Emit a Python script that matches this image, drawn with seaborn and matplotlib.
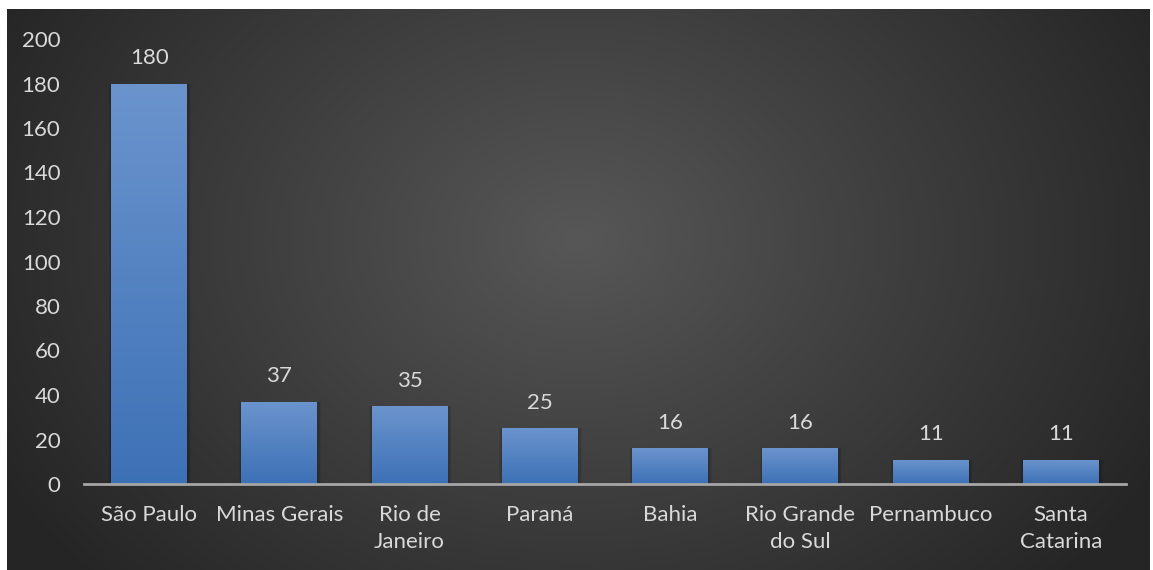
import numpy as np
import pandas as pd
import seaborn as sns
import matplotlib.pyplot as plt
from matplotlib.colors import LinearSegmentedColormap

# Data
estados = ["São Paulo", "Minas Gerais", "Rio de\nJaneiro", "Paraná", "Bahia",
           "Rio Grande\ndo Sul", "Pernambuco", "Santa\nCatarina"]
valores = [180, 37, 35, 25, 16, 16, 11, 11]
y_ticks = [0, 20, 40, 60, 80, 100, 120, 140, 160, 180, 200]

df = pd.DataFrame({"estado": estados, "valor": valores})

sns.set_theme(style="white")
plt.rcParams["font.family"] = ["Lato", "DejaVu Sans"]

fig = plt.figure(figsize=(11.53, 5.70), dpi=100, facecolor="white")

# Dark radial background
bg = fig.add_axes([7 / 1153, 0, 1143 / 1153, 561 / 570])
bg.set_axis_off()
yy, xx = np.mgrid[0:561, 0:1143]
r = np.sqrt(((xx - 570) / 650) ** 2 + ((yy - 230) / 500) ** 2)
r = np.clip(r, 0, 1)
bg_cmap = LinearSegmentedColormap.from_list("bg", ["#575757", "#3e3e3e", "#262626"])
bg.imshow(r, cmap=bg_cmap, aspect="auto", extent=(0, 1, 0, 1), origin="upper")
bg.set_xlim(0, 1)
bg.set_ylim(0, 1)

ax = fig.add_axes([84 / 1153, 1 - 484 / 570, 1042 / 1153, 445 / 570])
ax.patch.set_alpha(0)

sns.barplot(data=df, x="estado", y="valor", ax=ax, color="#5585c5",
            width=0.583, saturation=1, linewidth=0, zorder=3)

# Per-bar vertical gradient
grad_cmap = LinearSegmentedColormap.from_list("bar", ["#3d71b6", "#6b94cd"])
grad = np.linspace(0, 1, 256).reshape(-1, 1)
for bar in list(ax.patches):
    x0, y0 = bar.get_x(), bar.get_y()
    w, h = bar.get_width(), bar.get_height()
    # soft shadow, a few faint layers (mostly sideways)
    for k in range(1, 5):
        ax.bar(x0 + w / 2 + 0.005, h, width=w + 0.012 * k, bottom=0,
               color="black", alpha=0.05, zorder=2, linewidth=0)
    im = ax.imshow(grad, cmap=grad_cmap, aspect="auto", origin="lower",
                   extent=(x0, x0 + w, y0, y0 + h), zorder=4)
    im.set_clip_path(bar)
    ax.text(x0 + w / 2, h + 7, str(int(h)), ha="center", va="bottom",
            color="#d9d9d9", fontsize=16)

ax.set_xlim(-0.5, len(estados) - 0.5)
ax.set_ylim(0, 200)
ax.set_yticks(y_ticks)
ax.set_xlabel("")
ax.set_ylabel("")
ax.tick_params(axis="both", colors="#d9d9d9", labelsize=16, length=0)
ax.tick_params(axis="y", pad=17)
ax.tick_params(axis="x", pad=15)
for lab in ax.get_xticklabels():
    lab.set_linespacing(1.45)
    lab.set_va("top")
for side in ["top", "right", "left"]:
    ax.spines[side].set_visible(False)
ax.spines["bottom"].set_color("#a6a6a6")
ax.spines["bottom"].set_linewidth(2)
ax.spines["bottom"].set_zorder(5)

fig.savefig("out.png", dpi=100, facecolor="white")
